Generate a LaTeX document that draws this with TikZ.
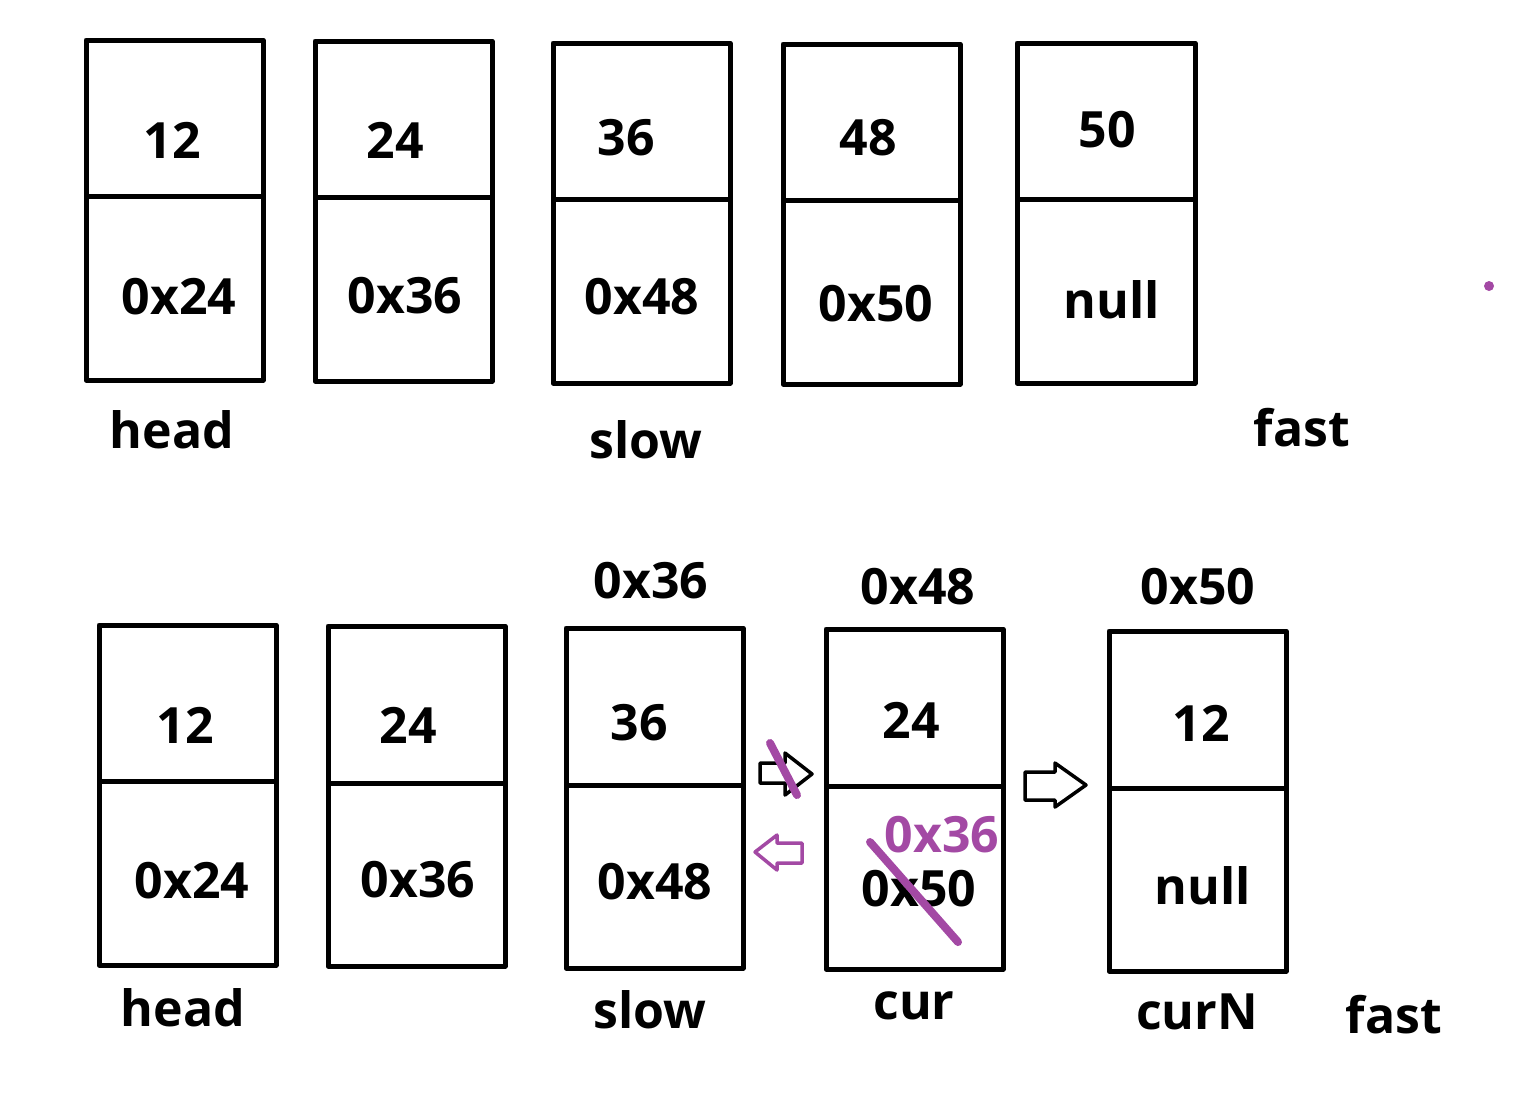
\documentclass[tikz,border=0pt]{standalone}
\usepackage{fontspec}
\setmainfont{Open Sans}
\definecolor{pen}{RGB}{163,73,164}
\tikzset{
  cell/.style={draw=black, line width=2.5pt},
  lbl/.style={font=\fontsize{25}{30}\selectfont\bfseries, inner sep=0pt},
  strike/.style={draw=pen, line width=4pt, line cap=round},
}
\begin{document}
\begin{tikzpicture}[x=0.5pt, y=-0.5pt, line join=round]
			\useasboundingbox (0,0) rectangle (1524,1100);
			
			% --- Hàng trên: danh sách ban đầu ---
			\draw[cell] (86,40) rectangle +(177,340) (86,196) -- +(177,0);
			\draw[cell] (315,41) rectangle +(177,340) (315,197) -- +(177,0);
			\draw[cell] (553,43) rectangle +(177,340) (553,199) -- +(177,0);
			\draw[cell] (783,44) rectangle +(177,340) (783,200) -- +(177,0);
			\draw[cell] (1017,43) rectangle +(178,340) (1017,199) -- +(178,0);
			
			\node[lbl] (a1) at (172,140) {12};
			\node[lbl] (a2) at (395,140) {24};
			\node[lbl] (a3) at (626,138) {36};
			\node[lbl] (a4) at (868,138) {48};
			\node[lbl] (a5) at (1107,130) {50};
			\node[lbl] (p1) at (179,297) {0x24};
			\node[lbl] (p2) at (405,296) {0x36};
			\node[lbl] (p3) at (642,297) {0x48};
			\node[lbl] (p4) at (876,304) {0x50};
			\node[lbl] (p5) at (1112,300) {null};
			
			\node[lbl] (head) at (172,430) {head};
			\node[lbl] (slow) at (646,440) {slow};
			\node[lbl] (fast) at (1302,428) {fast};
			\fill[pen] (1489,286) circle (5);
			
			% --- Hàng dưới: đảo nửa sau ---
			\draw[cell] (99,625) rectangle +(177,340) (99,781) -- +(177,0);
			\draw[cell] (328,626) rectangle +(177,340) (328,783) -- +(177,0);
			\draw[cell] (566,628) rectangle +(177,340) (566,785) -- +(177,0);
			\draw[cell] (826,629) rectangle +(177,340) (826,786) -- +(177,0);
			\draw[cell] (1109,631) rectangle +(177,340) (1109,788) -- +(177,0);
			
			\node[lbl] (b1) at (185,725) {12};
			\node[lbl] (b2) at (408,725) {24};
			\node[lbl] (b3) at (639,723) {36};
			\node[lbl] (b4) at (911,720) {24};
			\node[lbl] (b5) at (1201,723) {12};
			\node[lbl] (q1) at (192,881) {0x24};
			\node[lbl] (q2) at (418,880) {0x36};
			\node[lbl] (q3) at (655,882) {0x48};
			\node[lbl] (q4) at (919,889) {0x50};
			\node[lbl] (q5) at (1203,886) {null};
			
			\node[lbl] (addr3) at (651,581) {0x36};
			\node[lbl] (addr4) at (918,587) {0x48};
			\node[lbl] (addr5) at (1198,587) {0x50};
			
			\node[lbl] (head2) at (183,1008) {head};
			\node[lbl] (slow2) at (650,1010) {slow};
			\node[lbl] (cur) at (914,1006) {cur};
			\node[lbl] (curN) at (1197,1012) {curN};
			\node[lbl] (fast2) at (1394,1015) {fast};
			
			% --- Mũi tên khối ---
			\draw[line width=1.75pt] (760,763) -- (785,763) -- (785,753) -- (812,774) -- (785,795) -- (785,783) -- (760,783) -- cycle;
			\draw[line width=1.75pt] (1025,772) -- (1055,772) -- (1055,763) -- (1086,785) -- (1055,807) -- (1055,800) -- (1025,800) -- cycle;
			\draw[pen, line width=1.75pt] (802,843) -- (777,843) -- (777,835) -- (755,852) -- (777,870) -- (777,863) -- (802,863) -- cycle;
			
			% --- Nét gạch và sửa ---
			\draw[strike] (770,743) -- (797,795);
			\draw[strike] (870,842) -- (958,942);
			\node[lbl, text=pen] (fix) at (942,835) {0x36};
			
		\end{tikzpicture}
\end{document}
